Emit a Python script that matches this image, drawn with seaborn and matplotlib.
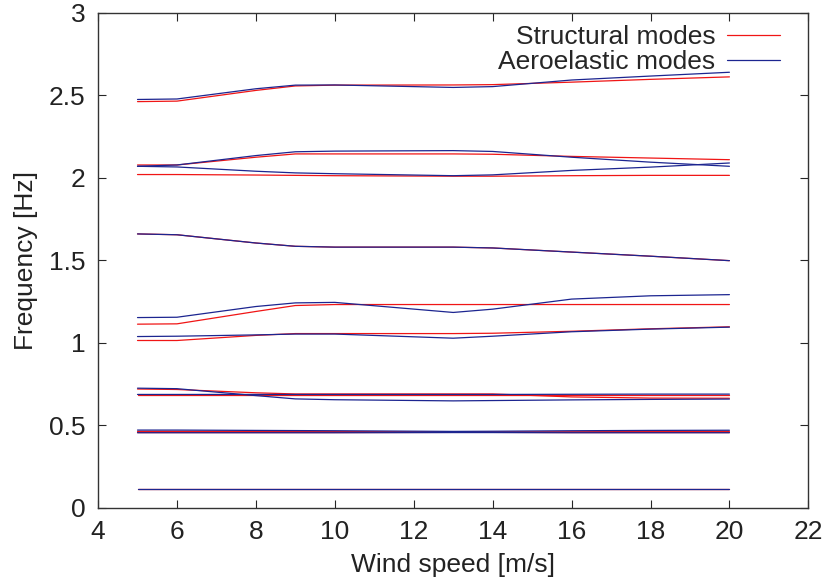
import matplotlib
matplotlib.use("Agg")
import matplotlib.pyplot as plt
import numpy as np
import pandas as pd
import seaborn as sns

# wind speeds where the modes were computed
wind = [5, 6, 8, 9, 10, 13, 14, 16, 18, 20]

# structural modes (red)
s1 = [0.115, 0.115, 0.115, 0.115, 0.115, 0.115, 0.115, 0.115, 0.115, 0.115]
s2 = [0.456, 0.456, 0.456, 0.456, 0.456, 0.457, 0.457, 0.456, 0.456, 0.456]
s3 = [0.463, 0.463, 0.462, 0.462, 0.462, 0.460, 0.460, 0.461, 0.462, 0.462]
s4 = [0.685, 0.685, 0.685, 0.685, 0.685, 0.685, 0.685, 0.685, 0.685, 0.685]
s5 = [0.720, 0.717, 0.697, 0.690, 0.690, 0.690, 0.690, 0.672, 0.665, 0.664]
s6 = [1.014, 1.014, 1.045, 1.056, 1.056, 1.056, 1.058, 1.070, 1.085, 1.097]
s7 = [1.113, 1.115, 1.190, 1.226, 1.232, 1.232, 1.232, 1.232, 1.232, 1.232]
s8 = [1.660, 1.655, 1.605, 1.585, 1.580, 1.580, 1.575, 1.550, 1.525, 1.498]
s9 = [2.020, 2.020, 2.017, 2.015, 2.013, 2.010, 2.010, 2.013, 2.015, 2.015]
s10 = [2.078, 2.078, 2.125, 2.145, 2.145, 2.145, 2.143, 2.130, 2.120, 2.110]
s11 = [2.462, 2.465, 2.530, 2.557, 2.562, 2.563, 2.565, 2.580, 2.597, 2.612]

# aeroelastic modes (blue)
a1 = [0.115, 0.115, 0.115, 0.115, 0.115, 0.115, 0.115, 0.115, 0.115, 0.115]
a2 = [0.455, 0.455, 0.455, 0.455, 0.455, 0.456, 0.456, 0.455, 0.455, 0.455]
a3 = [0.471, 0.471, 0.469, 0.468, 0.467, 0.463, 0.464, 0.467, 0.469, 0.470]
a4 = [0.687, 0.687, 0.687, 0.687, 0.687, 0.687, 0.687, 0.688, 0.689, 0.689]
a5 = [0.725, 0.722, 0.680, 0.660, 0.655, 0.648, 0.650, 0.654, 0.657, 0.659]
a6 = [1.038, 1.040, 1.048, 1.053, 1.053, 1.028, 1.040, 1.067, 1.083, 1.095]
a7 = [1.153, 1.155, 1.220, 1.242, 1.245, 1.184, 1.204, 1.265, 1.285, 1.292]
a8 = [1.660, 1.655, 1.605, 1.585, 1.580, 1.580, 1.575, 1.550, 1.525, 1.498]
a9 = [2.070, 2.066, 2.040, 2.030, 2.025, 2.013, 2.018, 2.045, 2.065, 2.090]
a10 = [2.070, 2.078, 2.135, 2.158, 2.162, 2.165, 2.160, 2.125, 2.095, 2.070]
a11 = [2.475, 2.478, 2.540, 2.562, 2.563, 2.548, 2.553, 2.593, 2.617, 2.640]

structural = [s1, s2, s3, s4, s5, s6, s7, s8, s9, s10, s11]
aeroelastic = [a1, a2, a3, a4, a5, a6, a7, a8, a9, a10, a11]

rows = []
for name, modes in [("Structural modes", structural), ("Aeroelastic modes", aeroelastic)]:
    for i, vals in enumerate(modes):
        for w, f in zip(wind, vals):
            rows.append({"wind": w, "freq": f, "type": name, "mode": f"{name}{i}"})
df = pd.DataFrame(rows)

sns.set_style("ticks")
plt.rcParams["font.family"] = ["Liberation Sans", "DejaVu Sans"]
plt.rcParams["font.size"] = 19

fig, ax = plt.subplots(figsize=(8.24, 5.85), dpi=100)
fig.subplots_adjust(left=0.119, right=0.981, top=0.978, bottom=0.132)

sns.lineplot(data=df, x="wind", y="freq", hue="type", units="mode", estimator=None,
             palette={"Structural modes": "#f01515", "Aeroelastic modes": "#1c2590"},
             linewidth=0.9, ax=ax)

ax.set_xlim(4, 22)
ax.set_ylim(0, 3)
ax.set_xticks(np.arange(4, 23, 2))
ax.set_yticks(np.arange(0, 3.01, 0.5))
ax.set_yticklabels(["0", "0.5", "1", "1.5", "2", "2.5", "3"])
ax.set_xlabel("Wind speed [m/s]", fontsize=19, color="#222222", labelpad=6)
ax.set_ylabel("Frequency [Hz]", fontsize=19, color="#222222", labelpad=8)
ax.tick_params(direction="in", top=True, right=True, length=6, width=0.8,
               labelsize=19, labelcolor="#222222", pad=9)
for sp in ax.spines.values():
    sp.set_linewidth(1.0)
    sp.set_color("#333333")

ax.legend(loc="upper right", bbox_to_anchor=(0.975, 0.996), frameon=False,
          markerfirst=False, title=None, fontsize=19, handlelength=2.0,
          labelspacing=0.02, borderaxespad=0.0, handletextpad=0.45)

plt.savefig("out.png", dpi=100)
